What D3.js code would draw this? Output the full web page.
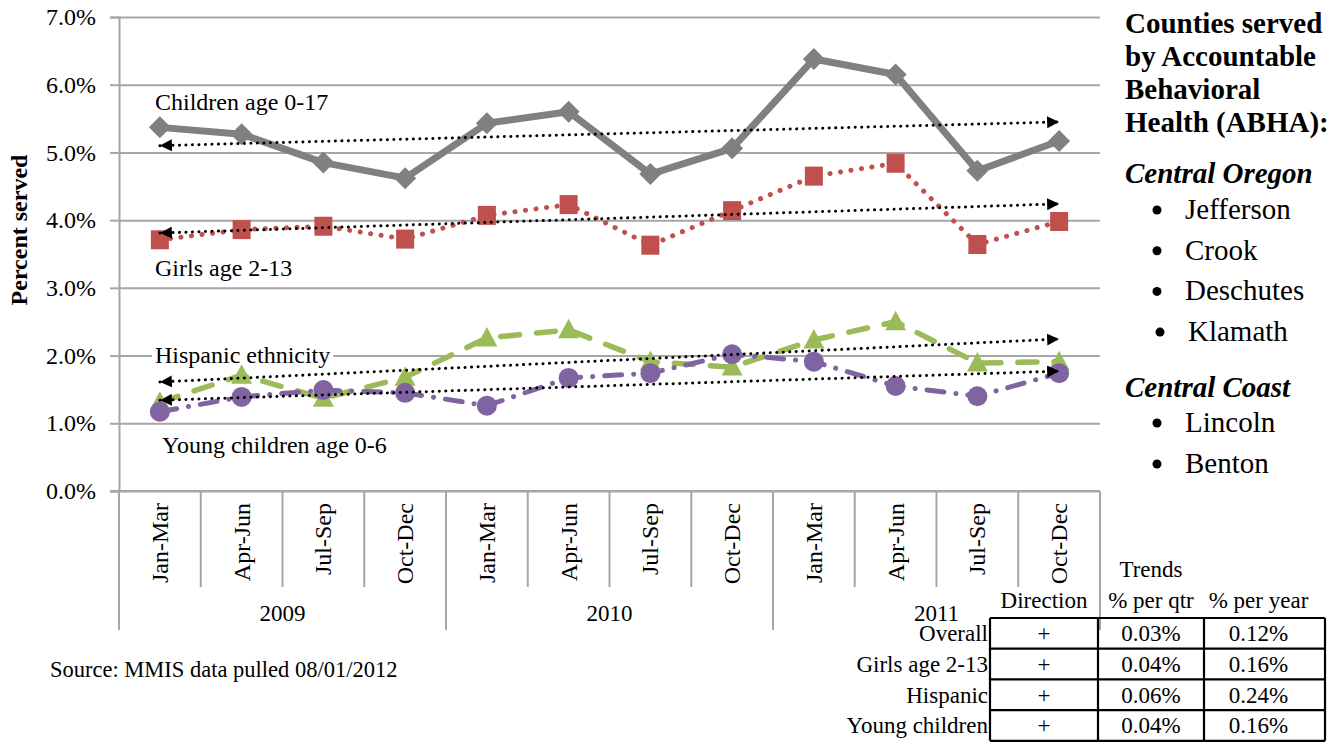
<!DOCTYPE html>
<html>
<head>
<meta charset="utf-8">
<script src="https://cdn.jsdelivr.net/npm/d3@7"></script>
<style>
  html, body { margin: 0; padding: 0; background: #fff; }
  svg { display: block; font-family: "Liberation Serif", "Times New Roman", serif; }
</style>
</head>
<body>
<svg id="chart" width="1343" height="742"></svg>
<script>
// ---- data ----
const categories = ["Jan-Mar","Apr-Jun","Jul-Sep","Oct-Dec","Jan-Mar","Apr-Jun","Jul-Sep","Oct-Dec","Jan-Mar","Apr-Jun","Jul-Sep","Oct-Dec"];
const years = ["2009","2010","2011"];
const childrenValues = [5.37,5.27,4.85,4.62,5.43,5.60,4.68,5.06,6.38,6.15,4.73,5.17];
const girlsValues    = [3.71,3.86,3.91,3.72,4.07,4.23,3.63,4.14,4.65,4.84,3.64,3.98];
const hispanicValues = [1.31,1.71,1.37,1.68,2.26,2.38,1.91,1.83,2.23,2.50,1.89,1.91];
const youngValues    = [1.17,1.39,1.49,1.45,1.26,1.67,1.74,2.02,1.91,1.55,1.40,1.74];
// trendline start / end values (first and last quarter)
const childrenTrend = [5.10,5.45];
const girlsTrend    = [3.81,4.24];
const hispanicTrend = [1.61,2.245];
const youngTrend    = [1.34,1.77];
const yTicks = [0,1,2,3,4,5,6,7];
const seriesLabels = ["Children age 0-17","Girls age 2-13","Hispanic ethnicity","Young children age 0-6"];
const countiesTitle = ["Counties served","by Accountable","Behavioral","Health (ABHA):"];
const regionOregon = "Central Oregon";
const oregonCounties = ["Jefferson","Crook","Deschutes","Klamath"];
const regionCoast = "Central Coast";
const coastCounties = ["Lincoln","Benton"];
const tableHeaders = ["Direction","% per qtr","% per year"];
const tableRows = ["Overall","Girls age 2-13","Hispanic","Young children"];
const tableDirection = ["+","+","+","+"];
const tablePerQtr = ["0.03%","0.04%","0.06%","0.04%"];
const tablePerYear = ["0.12%","0.16%","0.24%","0.16%"];

// ---- layout ----
const svg = d3.select("#chart");
const L = 119, R = 1100, T = 17, B = 491;
const x = d3.scaleBand().domain(d3.range(categories.length)).range([L, R]);
const bw = x.bandwidth();
const cx = i => x(i) + bw / 2;
const y = d3.scaleLinear().domain([0, 7]).range([B, T]);
const gridColor = "#a6a6a6";

// gridlines
const grid = svg.append("g").attr("transform", `translate(${L},0)`)
  .call(d3.axisLeft(y).tickValues(yTicks).tickSize(-(R - L)).tickFormat(""));
grid.select(".domain").remove();
grid.selectAll("line").attr("stroke", gridColor).attr("stroke-width", 2);

// y axis
const yAxis = svg.append("g").attr("transform", `translate(${L},0)`)
  .call(d3.axisLeft(y).tickValues(yTicks).tickSize(9).tickPadding(14).tickFormat(d => d.toFixed(1) + "%"));
yAxis.select(".domain").attr("stroke", gridColor).attr("stroke-width", 2);
yAxis.selectAll("line").attr("stroke", gridColor).attr("stroke-width", 2);
yAxis.selectAll("text").attr("font-size", 24).attr("fill", "#000")
  .attr("font-family", "Liberation Serif");

// x axis line
svg.append("line").attr("x1", L - 9).attr("x2", R).attr("y1", B).attr("y2", B)
  .attr("stroke", gridColor).attr("stroke-width", 2);

// category separators
const seps = d3.range(categories.length + 1);
svg.append("g").selectAll("line").data(seps).join("line")
  .attr("x1", i => i < categories.length ? x(i) : R)
  .attr("x2", i => i < categories.length ? x(i) : R)
  .attr("y1", B)
  .attr("y2", i => (i % 4 === 0) ? 630 : 587)
  .attr("stroke", gridColor).attr("stroke-width", 2);

// category labels
svg.append("g").selectAll("text").data(categories).join("text")
  .attr("transform", (d, i) => `translate(${cx(i)},503) rotate(-90)`)
  .attr("text-anchor", "end")
  .attr("dominant-baseline", "central")
  .attr("font-size", 24)
  .text(d => d);

// year labels
svg.append("g").selectAll("text").data(years).join("text")
  .attr("x", (d, i) => (x(i * 4) + (i * 4 + 4 < categories.length ? x(i * 4 + 4) : R)) / 2)
  .attr("y", 621)
  .attr("text-anchor", "middle")
  .attr("font-size", 23)
  .text(d => d);

// y axis title
svg.append("text")
  .attr("transform", "translate(27,230) rotate(-90)")
  .attr("text-anchor", "middle")
  .attr("font-weight", "bold")
  .attr("font-size", 24)
  .text("Percent served");

// ---- series ----
const line = d3.line().x((d, i) => cx(i)).y(d => y(d));

svg.append("path").datum(childrenValues).attr("d", line)
  .attr("fill", "none").attr("stroke", "#808080").attr("stroke-width", 7)
  .attr("stroke-linejoin", "round");
svg.append("path").datum(girlsValues).attr("d", line)
  .attr("fill", "none").attr("stroke", "#c0504d").attr("stroke-width", 5)
  .attr("stroke-linecap", "round").attr("stroke-dasharray", "0.1 10.5");
svg.append("path").datum(hispanicValues).attr("d", line)
  .attr("fill", "none").attr("stroke", "#9bbb59").attr("stroke-width", 5.5)
  .attr("stroke-linecap", "round").attr("stroke-dasharray", "19 17");
svg.append("path").datum(youngValues).attr("d", line)
  .attr("fill", "none").attr("stroke", "#8064a2").attr("stroke-width", 5)
  .attr("stroke-linecap", "round").attr("stroke-dasharray", "17 12 0.1 12");

// markers
svg.append("g").selectAll("path").data(childrenValues).join("path")
  .attr("d", (d, i) => { const px = cx(i), py = y(d), s = 11; return `M${px},${py - s}L${px + s},${py}L${px},${py + s}L${px - s},${py}Z`; })
  .attr("fill", "#808080");
svg.append("g").selectAll("rect").data(girlsValues).join("rect")
  .attr("x", (d, i) => cx(i) - 9).attr("y", d => y(d) - 9.5)
  .attr("width", 18).attr("height", 19).attr("fill", "#c0504d");
svg.append("g").selectAll("path").data(hispanicValues).join("path")
  .attr("d", (d, i) => { const px = cx(i), py = y(d); return `M${px},${py - 11}L${px + 10.5},${py + 8.5}L${px - 10.5},${py + 8.5}Z`; })
  .attr("fill", "#9bbb59");
svg.append("g").selectAll("circle").data(youngValues).join("circle")
  .attr("cx", (d, i) => cx(i)).attr("cy", d => y(d)).attr("r", 10)
  .attr("fill", "#8064a2");

// trend lines with arrowheads at both ends
const defs = svg.append("defs");
defs.append("marker").attr("id", "arrow")
  .attr("viewBox", "0 0 12 12").attr("refX", 12).attr("refY", 6)
  .attr("markerWidth", 12).attr("markerHeight", 12)
  .attr("markerUnits", "userSpaceOnUse")
  .attr("orient", "auto-start-reverse")
  .append("path").attr("d", "M0,0L12,6L0,12Z").attr("fill", "#000");

const trends = [childrenTrend, girlsTrend, hispanicTrend, youngTrend];
svg.append("g").selectAll("line").data(trends).join("line")
  .attr("x1", cx(0)).attr("x2", cx(categories.length - 1))
  .attr("y1", d => y(d[0])).attr("y2", d => y(d[1]))
  .attr("stroke", "#000").attr("stroke-width", 3)
  .attr("stroke-linecap", "round").attr("stroke-dasharray", "0.1 6.4")
  .attr("marker-start", "url(#arrow)").attr("marker-end", "url(#arrow)");

// series labels
const labelPos = [[155, 110], [155, 276], [155, 363], [162, 453]];
const lblG = svg.append("g");
seriesLabels.forEach((t, i) => {
  const txt = lblG.append("text").attr("x", labelPos[i][0]).attr("y", labelPos[i][1])
    .attr("font-size", 24).text(t);
  if (i === 2) {
    const bb = txt.node().getBBox();
    lblG.insert("rect", "text:last-child")
      .attr("x", bb.x - 3).attr("y", bb.y + 3).attr("width", bb.width + 6).attr("height", bb.height - 6)
      .attr("fill", "#fff");
  }
});

// source
svg.append("text").attr("x", 50).attr("y", 677).attr("font-size", 22.5)
  .text("Source: MMIS data pulled 08/01/2012");

// ---- right panel ----
const rp = svg.append("g").attr("font-size", 29);
countiesTitle.forEach((t, i) => {
  rp.append("text").attr("x", 1125).attr("y", 33 + i * 33).attr("font-weight", "bold").text(t);
});
rp.append("text").attr("x", 1125).attr("y", 183).attr("font-weight", "bold").attr("font-style", "italic").text(regionOregon);
oregonCounties.forEach((t, i) => {
  rp.append("circle").attr("cx", i === 3 ? 1160 : 1157).attr("cy", 210 + i * 40.7).attr("r", 4.5).attr("fill", "#000");
  rp.append("text").attr("x", i === 3 ? 1188 : 1185).attr("y", 219 + i * 40.7).text(t);
});
rp.append("text").attr("x", 1125).attr("y", 397).attr("font-weight", "bold").attr("font-style", "italic").text(regionCoast);
coastCounties.forEach((t, i) => {
  rp.append("circle").attr("cx", 1157).attr("cy", 423 + i * 41).attr("r", 4.5).attr("fill", "#000");
  rp.append("text").attr("x", 1185).attr("y", 432 + i * 41).text(t);
});

// ---- trends table ----
const tb = svg.append("g").attr("font-size", 23);
const colX = [990, 1098, 1204, 1325];
const rowY = [618, 648.7, 679.4, 710.1, 740.8];
tb.append("text").attr("x", 1151).attr("y", 577).attr("text-anchor", "middle").text("Trends");
tableHeaders.forEach((t, i) => {
  tb.append("text").attr("x", (colX[i] + colX[i + 1]) / 2 - (i === 2 ? 6 : 0)).attr("y", 608)
    .attr("text-anchor", "middle").text(t);
});
tableRows.forEach((t, r) => {
  const ty = (rowY[r] + rowY[r + 1]) / 2 + 8;
  tb.append("text").attr("x", 988).attr("y", ty).attr("text-anchor", "end").text(t);
  [tableDirection[r], tablePerQtr[r], tablePerYear[r]].forEach((v, c) => {
    tb.append("text").attr("x", (colX[c] + colX[c + 1]) / 2 - (c === 2 ? 6 : 0)).attr("y", ty)
      .attr("text-anchor", "middle").text(v);
  });
});
// grid of table
rowY.forEach(ry => {
  tb.append("line").attr("x1", colX[0]).attr("x2", colX[3]).attr("y1", ry).attr("y2", ry)
    .attr("stroke", "#000").attr("stroke-width", 2.2);
});
colX.forEach(cxx => {
  tb.append("line").attr("x1", cxx).attr("x2", cxx).attr("y1", rowY[0]).attr("y2", rowY[4])
    .attr("stroke", "#000").attr("stroke-width", 2.2);
});
</script>
</body>
</html>
